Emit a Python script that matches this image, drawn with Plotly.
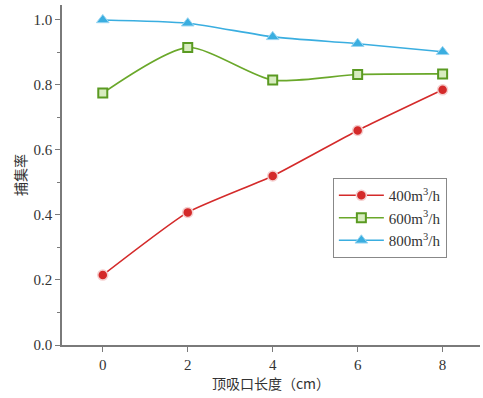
import plotly.graph_objects as go

x_vals = [0, 2, 4, 6, 8]
s400 = [0.215, 0.408, 0.52, 0.66, 0.785]
s600 = [0.775, 0.915, 0.815, 0.832, 0.834]
s800 = [1.0, 0.99, 0.948, 0.927, 0.902]
names = ["400m<sup>3</sup>/h", "600m<sup>3</sup>/h", "800m<sup>3</sup>/h"]
y_ticks = [0.0, 0.2, 0.4, 0.6, 0.8, 1.0]

fig = go.Figure()
fig.add_trace(go.Scatter(x=x_vals, y=s400, name=names[0], mode="lines+markers",
    line=dict(color="#d42a2a", width=1.6, shape="spline", smoothing=0.5),
    marker=dict(symbol="circle", size=10, color="#d42a2a", line=dict(color="#f5d0d0", width=1.5))))
fig.add_trace(go.Scatter(x=x_vals, y=s600, name=names[1], mode="lines+markers",
    line=dict(color="#6aa82a", width=1.6, shape="spline", smoothing=0.7),
    marker=dict(symbol="square", size=9, color="#d8ecc0", line=dict(color="#5a9a22", width=2))))
fig.add_trace(go.Scatter(x=x_vals, y=s800, name=names[2], mode="lines+markers",
    line=dict(color="#3aaee0", width=1.6, shape="spline", smoothing=0.6),
    marker=dict(symbol="triangle-up", size=11, color="#3aaee0", line=dict(color="#9ad6f2", width=1))))

axis_color = "#7a7a7a"
serif = "Liberation Serif"
cjk = "Noto Sans CJK SC"
fig.update_layout(
    width=483, height=398,
    margin=dict(l=62, r=3, t=5, b=53),
    paper_bgcolor="white", plot_bgcolor="white",
    font=dict(family=serif, size=15, color="#333"),
    showlegend=True,
    legend=dict(x=0.648, y=0.491, xanchor="left", yanchor="top",
                bordercolor="#888", borderwidth=1, bgcolor="white",
                font=dict(family=serif, size=15), tracegroupgap=0, itemwidth=45),
    xaxis=dict(range=[-0.96, 8.88], tickvals=x_vals, showgrid=False, zeroline=False,
               automargin=False,
               showline=True, linecolor=axis_color, linewidth=1.5,
               ticks="outside", ticklen=5, tickcolor=axis_color,
               tickfont=dict(family=serif, size=15, color="#333"),
               title=dict(text="顶吸口长度（cm）", font=dict(family=cjk, size=14), standoff=2)),
    yaxis=dict(range=[0, 1.046], tickvals=y_ticks, ticktext=["0.0", "0.2", "0.4", "0.6", "0.8", "1.0"],
               showgrid=False, zeroline=False, automargin=False,
               showline=True, linecolor=axis_color, linewidth=1.5,
               ticks="outside", ticklen=5, tickcolor=axis_color,
               tickfont=dict(family=serif, size=15, color="#333"),
               minor=dict(tickvals=[0.1, 0.3, 0.5, 0.7, 0.9], ticks="outside", ticklen=3, tickcolor=axis_color),
               title=dict(text="捕集率", font=dict(family=cjk, size=14), standoff=4)),
)
fig.write_html("out.html", config={"displayModeBar": False},
               post_script="document.body.style.margin='0';")
